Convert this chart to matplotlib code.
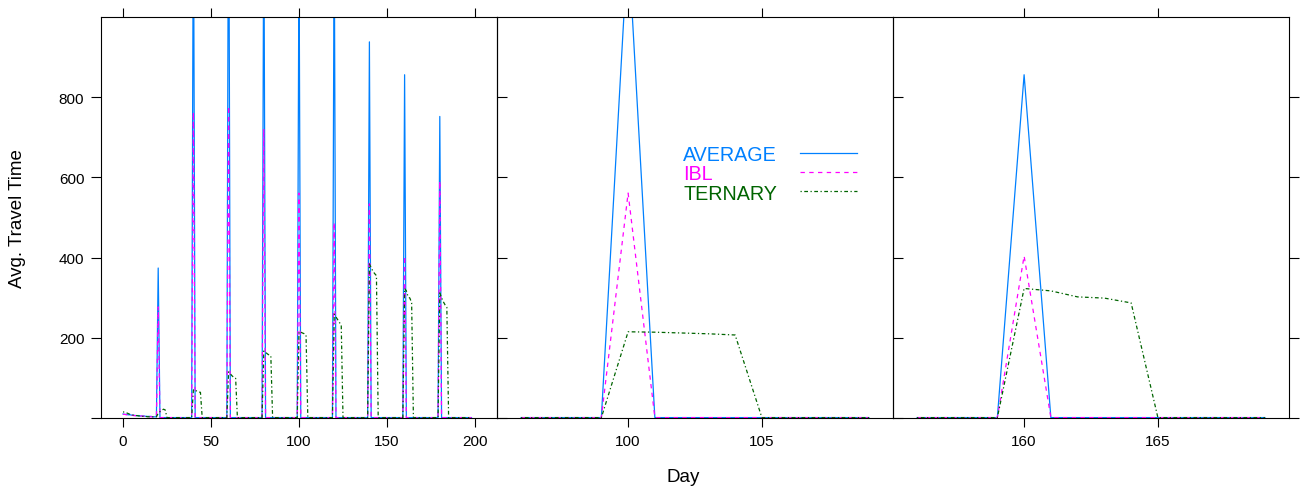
import numpy as np
import matplotlib.pyplot as plt

plt.rcParams['font.family'] = ['Liberation Sans', 'DejaVu Sans']

# daily records, days 0..198
days = np.arange(0, 199)

# days where the jams start, and the peak reached by each method
spike_days = [20, 40, 60, 80, 100, 120, 140, 160, 180]
avg_peak = [374, 1350, 1500, 1300, 1190, 1250, 938, 856, 752]
ibl_peak = [277, 763, 778, 721, 561, 488, 534, 404, 591]
# ternary stays high for five days after each jam starts
ternary_run = [
    [12, 16, 19, 22, 20],
    [71, 69, 67, 65, 64],
    [115, 110, 105, 101, 99],
    [167, 164, 160, 157, 155],
    [215, 214, 212, 210, 207],
    [259, 252, 245, 238, 232],
    [384, 375, 366, 360, 355],
    [323, 317, 302, 299, 287],
    [312, 300, 290, 282, 276],
]
# warm-up days 0..19 before the first jam
early_avg = [10, 9, 9, 8, 8, 7, 7, 6, 6, 6, 5, 5, 5, 4, 4, 4, 4, 3, 3, 3]
early_ibl = [9, 9, 8, 8, 7, 7, 6, 6, 6, 5, 5, 5, 4, 4, 4, 3, 3, 3, 3, 3]
early_ternary = [15, 15, 13, 11, 9, 8, 7, 6, 6, 5, 5, 4, 4, 4, 3, 3, 3, 3, 3, 3]
quiet_level = 1

avg = np.full(len(days), quiet_level, dtype=float)
ibl = np.full(len(days), quiet_level, dtype=float)
ternary = np.full(len(days), quiet_level, dtype=float)
avg[:20] = early_avg
ibl[:20] = early_ibl
ternary[:20] = early_ternary
for d, a, b, run in zip(spike_days, avg_peak, ibl_peak, ternary_run):
    avg[d] = a
    ibl[d] = b
    ternary[d:d + 5] = run

series = [
    ('AVERAGE', avg, '#0080ff', '-'),
    ('IBL', ibl, '#ff00ff', (0, (3.5, 3.5))),
    ('TERNARY', ternary, '#006400', (0, (1, 2, 3, 2))),
]

# panel windows: whole run, then zoom on the jams of day 100 and day 160
panel_days = [(0, 198), (96, 109), (156, 169)]
panel_xlim = [(-12.5, 212.5), (95.1, 109.9), (155.1, 169.9)]
panel_xticks = [[0, 50, 100, 150, 200], [100, 105], [160, 165]]

fig = plt.figure(figsize=(13.02, 4.89), dpi=100)
W, H = 1302, 489
left, right, top, bottom = 101, 1289, 18, 419
pw = (right - left) / 3

for i in range(3):
    ax = fig.add_axes([(left + i * pw) / W, (H - bottom) / H, pw / W, (bottom - top) / H])
    ax.set_facecolor('none')
    lo, hi = panel_days[i]
    m = (days >= lo) & (days <= hi)
    for name, vals, col, ls in series:
        ax.plot(days[m], vals[m], color=col, linestyle=ls, lw=0.9, label=name)
    ax.set_xlim(*panel_xlim[i])
    ax.set_ylim(0, 1000)
    ax.set_xticks(panel_xticks[i])
    ax.set_yticks([0, 200, 400, 600, 800])
    for sp in ax.spines.values():
        sp.set_linewidth(0.8)
    ax.tick_params(axis='x', direction='out', top=True, bottom=True, length=6.5,
                   width=0.8, pad=5, labelsize=11)
    if i == 0:
        ax.set_yticklabels(['', '200', '400', '600', '800'])
        ax.tick_params(axis='y', direction='out', left=True, right=True, length=7,
                       width=0.8, pad=5, labelsize=11)
        ax.set_ylabel('Avg. Travel Time', fontsize=13.5)
        ax.yaxis.set_label_coords(-0.19, 0.5)
    else:
        ax.tick_params(axis='y', direction='out', left=False, right=True, length=7,
                       width=0.8, labelleft=False)
    if i == 1:
        # key: coloured names on the left, line samples on the right
        text_y = [0.643, 0.596, 0.546]
        line_y = [0.661, 0.613, 0.565]
        for (name, vals, col, ls), ty, ly in zip(series, text_y, line_y):
            ax.text(0.47, ty, name, color=col, fontsize=14.2, va='baseline',
                    ha='left', transform=ax.transAxes)
            ax.plot([0.765, 0.909], [ly, ly], color=col, linestyle=ls, lw=0.9,
                    transform=ax.transAxes)

fig.text(683 / W, 1 - 478 / H, 'Day', ha='center', va='center', fontsize=13.5)

fig.savefig('out.png', dpi=100)
